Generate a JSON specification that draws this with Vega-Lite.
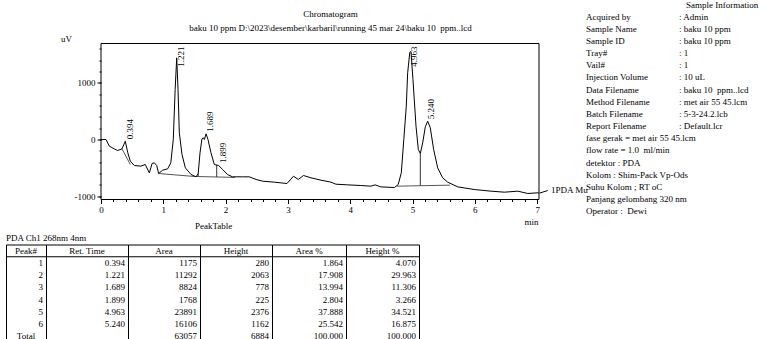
{
  "$schema": "https://vega.github.io/schema/vega-lite/v6.json",
  "padding": {"left": 5, "top": 0.5, "right": 0, "bottom": 0},
  "background": "white",
  "columns": 2,
  "bounds": "flush",
  "spacing": {"row": 45, "column": 47},
  "config": {
    "font": "Liberation Serif",
    "view": {"stroke": null},
    "axis": {"labelFont": "Liberation Serif", "titleFont": "Liberation Serif", "labelFontSize": 9, "titleFontSize": 9, "titleFontWeight": "normal", "labelColor": "#000", "titleColor": "#000", "tickColor": "#000", "domainColor": "#000", "grid": false},
    "text": {"font": "Liberation Serif", "fontSize": 9, "color": "#000"},
    "title": {"font": "Liberation Serif", "fontSize": 9, "fontWeight": "normal", "color": "#000", "subtitleFont": "Liberation Serif", "subtitleFontSize": 9, "subtitleColor": "#000"}
  },
  "datasets": {
    "curve": [
      {"t":0,"v":0},{"t":0.08,"v":0},{"t":0.134,"v":-118},{"t":0.214,"v":-165},{"t":0.267,"v":-194},{"t":0.337,"v":-165},{"t":0.39,"v":-30},{"t":0.43,"v":-235},{"t":0.47,"v":-382},{"t":0.535,"v":-459},{"t":0.64,"v":-470},{"t":0.71,"v":-441},{"t":0.776,"v":-588},{"t":0.82,"v":-423},{"t":0.856,"v":-411},{"t":0.894,"v":-459},{"t":0.925,"v":-600},{"t":0.99,"v":-541},{"t":1.07,"v":-517},{"t":1.12,"v":-411},{"t":1.16,"v":0},{"t":1.19,"v":882},{"t":1.215,"v":1440},{"t":1.236,"v":882},{"t":1.257,"v":118},{"t":1.3,"v":-265},{"t":1.354,"v":-500},{"t":1.445,"v":-617},{"t":1.525,"v":-658},{"t":1.56,"v":-600},{"t":1.589,"v":-235},{"t":1.62,"v":12},{"t":1.643,"v":29},{"t":1.659,"v":0},{"t":1.686,"v":100},{"t":1.717,"v":0},{"t":1.765,"v":-235},{"t":1.819,"v":-441},{"t":1.888,"v":-459},{"t":1.952,"v":-529},{"t":2.03,"v":-617},{"t":2.11,"v":-658},{"t":2.27,"v":-658},{"t":2.38,"v":-658},{"t":2.49,"v":-705},{"t":2.595,"v":-735},{"t":2.78,"v":-752},{"t":2.985,"v":-776},{"t":3.09,"v":-647},{"t":3.167,"v":-705},{"t":3.25,"v":-635},{"t":3.37,"v":-676},{"t":3.53,"v":-717},{"t":3.69,"v":-752},{"t":3.77,"v":-788},{"t":3.96,"v":-800},{"t":4.17,"v":-811},{"t":4.33,"v":-823},{"t":4.4,"v":-800},{"t":4.49,"v":-835},{"t":4.71,"v":-847},{"t":4.77,"v":-794},{"t":4.82,"v":-588},{"t":4.86,"v":0},{"t":4.9,"v":588},{"t":4.922,"v":1176},{"t":4.955,"v":1528},{"t":4.966,"v":1552},{"t":4.976,"v":1540},{"t":5.007,"v":1058},{"t":5.056,"v":235},{"t":5.093,"v":-176},{"t":5.125,"v":-247},{"t":5.163,"v":-59},{"t":5.205,"v":223},{"t":5.243,"v":323},{"t":5.285,"v":206},{"t":5.339,"v":-176},{"t":5.404,"v":-500},{"t":5.484,"v":-676},{"t":5.564,"v":-752},{"t":5.725,"v":-835},{"t":5.99,"v":-882},{"t":6.26,"v":-911},{"t":6.474,"v":-929},{"t":6.69,"v":-911},{"t":6.85,"v":-952},{"t":7.01,"v":-940},{"t":7.03,"v":-945}
    ],
    "peaks": [
      {"rt":0.394,"apex":-30},{"rt":1.221,"apex":1440},{"rt":1.689,"apex":100},{"rt":1.899,"apex":-450},{"rt":4.963,"apex":1552},{"rt":5.24,"apex":323}
    ],
    "baselines": [
      {"t1":0.337,"v1":-165,"t2":0.47,"v2":-441},
      {"t1":0.925,"v1":-600,"t2":1.5,"v2":-652},
      {"t1":1.5,"v1":-652,"t2":2.15,"v2":-668},
      {"t1":4.75,"v1":-823,"t2":5.6,"v2":-805}
    ],
    "drops": [
      {"t":1.56,"v1":-653,"v2":-600},
      {"t":1.857,"v1":-662,"v2":-450},
      {"t":5.125,"v1":-815,"v2":-247}
    ],
    "table": [
      {"peak":"1","rt":0.394,"area":1175,"height":280,"areaPct":1.864,"heightPct":4.07},
      {"peak":"2","rt":1.221,"area":11292,"height":2063,"areaPct":17.908,"heightPct":29.963},
      {"peak":"3","rt":1.689,"area":8824,"height":778,"areaPct":13.994,"heightPct":11.306},
      {"peak":"4","rt":1.899,"area":1768,"height":225,"areaPct":2.804,"heightPct":3.266},
      {"peak":"5","rt":4.963,"area":23891,"height":2376,"areaPct":37.888,"heightPct":34.521},
      {"peak":"6","rt":5.24,"area":16106,"height":1162,"areaPct":25.542,"heightPct":16.875},
      {"peak":"Total","area":63057,"height":6884,"areaPct":100,"heightPct":100}
    ],
    "info": [
      {"line":0,"head":"Sample Information"},
      {"line":1,"label":"Acquired by","value":": Admin"},
      {"line":2,"label":"Sample Name","value":": baku 10 ppm"},
      {"line":3,"label":"Sample ID","value":": baku 10 ppm"},
      {"line":4,"label":"Tray#","value":": 1"},
      {"line":5,"label":"Vail#","value":": 1"},
      {"line":6,"label":"Injection Volume","value":": 10 uL"},
      {"line":7,"label":"Data Filename","value":": baku 10\u00a0 ppm..lcd"},
      {"line":8,"label":"Method Filename","value":": met air 55 45.lcm"},
      {"line":9,"label":"Batch Filename","value":": 5-3-24.2.lcb"},
      {"line":10,"label":"Report Filename","value":": Default.lcr"},
      {"line":11,"label":"fase gerak = met air 55 45.lcm"},
      {"line":12,"label":"flow rate = 1.0\u00a0 ml/min"},
      {"line":13,"label":"detektor : PDA"},
      {"line":14,"label":"Kolom : Shim-Pack Vp-Ods"},
      {"line":15,"label":"Suhu Kolom ; RT oC"},
      {"line":16,"label":"Panjang gelombang 320 nm"},
      {"line":17,"label":"Operator :\u00a0 Dewi"}
    ]
  },
  "concat": [
    {
      "width": 533,
      "height": 156,
      "title": {"text": "Chromatogram", "subtitle": "baku 10 ppm D:\\2023\\desember\\karbaril\\running 45 mar 24\\baku 10\u00a0 ppm..lcd", "anchor": "middle", "frame": "group", "dx": 58, "offset": 2, "subtitlePadding": 5},
      "resolve": {"axis": {"x": "independent", "y": "independent"}},
      "layer": [
        {
          "data": {"values": [{}]},
          "mark": {"type": "rect", "filled": false, "color": "#000", "strokeWidth": 1},
          "encoding": {
            "x": {"datum": 0, "type": "quantitative", "axis": {"orient": "bottom", "values": [0,0.2,0.4,0.6,0.8,1,1.2,1.4,1.6,1.8,2,2.2,2.4,2.6,2.8,3,3.2,3.4,3.6,3.8,4,4.2,4.4,4.6,4.8,5,5.2,5.4,5.6,5.8,6,6.2,6.4,6.6,6.8,7], "labels": false, "tickSize": 2, "domain": false, "title": null}},
            "x2": {"datum": 7.03},
            "y": {"datum": -1058, "type": "quantitative", "axis": {"orient": "left", "values": [-1000,-800,-600,-400,-200,0,200,400,600,800,1000,1200,1400,1600], "labels": false, "tickSize": 2, "domain": false, "title": null, "offset": -95}},
            "y2": {"datum": 1693}
          }
        },
        {
          "data": {"name": "baselines"},
          "mark": {"type": "rule", "color": "#555", "strokeWidth": 1},
          "encoding": {
            "x": {"field": "t1", "type": "quantitative", "axis": null},
            "x2": {"field": "t2"},
            "y": {"field": "v1", "type": "quantitative", "axis": null},
            "y2": {"field": "v2"}
          }
        },
        {
          "data": {"name": "drops"},
          "mark": {"type": "rule", "color": "#333", "strokeWidth": 1},
          "encoding": {
            "x": {"field": "t", "type": "quantitative", "axis": null},
            "y": {"field": "v1", "type": "quantitative", "axis": null},
            "y2": {"field": "v2"}
          }
        },
        {
          "data": {"name": "curve"},
          "mark": {"type": "line", "color": "#000", "strokeWidth": 1},
          "encoding": {
            "x": {"field": "t", "type": "quantitative", "scale": {"domain": [-1.525, 7.03], "nice": false, "zero": false}, "axis": {"orient": "bottom", "values": [0,1,2,3,4,5,6,7], "tickSize": 4, "labelPadding": 2, "domain": false, "labelFlush": false, "title": "min", "titleX": 525, "titleY": 22, "titleAlign": "center", "titleBaseline": "middle"}},
            "y": {"field": "v", "type": "quantitative", "scale": {"domain": [-1058, 1693], "nice": false, "zero": false}, "axis": {"orient": "left", "values": [-1000, 0, 1000], "tickSize": 4, "labelPadding": 2, "domain": false, "offset": -95, "labelExpr": "datum.value < 0 ? '-' + format(-datum.value, 'd') : format(datum.value, 'd')", "title": "uV", "titleAngle": 0, "titleX": -35, "titleY": -5, "titleAlign": "center", "titleBaseline": "middle"}}
          }
        },
        {
          "data": {"name": "peaks"},
          "transform": [{"filter": "datum.apex < 1000"}],
          "mark": {"type": "text", "angle": 270, "align": "left", "baseline": "top", "dx": 2},
          "encoding": {
            "x": {"field": "rt", "type": "quantitative", "axis": null},
            "y": {"field": "apex", "type": "quantitative", "axis": null},
            "text": {"field": "rt", "type": "quantitative", "format": ".3f"}
          }
        },
        {
          "data": {"name": "peaks"},
          "transform": [{"filter": "datum.apex >= 1000"}],
          "mark": {"type": "text", "angle": 270, "align": "right", "baseline": "top", "dx": -3},
          "encoding": {
            "x": {"field": "rt", "type": "quantitative", "axis": null},
            "y": {"datum": 1693, "type": "quantitative", "axis": null},
            "text": {"field": "rt", "type": "quantitative", "format": ".3f"}
          }
        },
        {
          "data": {"values": [{"ch": "1PDA Mu"}]},
          "mark": {"type": "rule", "color": "#000", "strokeWidth": 1},
          "encoding": {
            "x": {"datum": 7.04, "type": "quantitative", "axis": null},
            "x2": {"datum": 7.17},
            "y": {"datum": -945, "type": "quantitative", "axis": null},
            "y2": {"datum": -900}
          }
        },
        {
          "data": {"values": [{"ch": "1PDA Mu"}]},
          "mark": {"type": "text", "align": "left", "baseline": "middle", "dx": 12, "dy": -3},
          "encoding": {
            "x": {"datum": 7.03, "type": "quantitative", "axis": null},
            "y": {"datum": -945, "type": "quantitative", "axis": null},
            "text": {"field": "ch"}
          }
        }
      ]
    },
    {
      "width": 93,
      "height": 156,
      "data": {"name": "info"},
      "encoding": {
        "y": {"field": "line", "type": "quantitative", "scale": {"domain": [3.207, 16.037], "reverse": true, "nice": false, "zero": false}, "axis": null}
      },
      "layer": [
        {
          "transform": [{"filter": "isValid(datum.label)"}],
          "mark": {"type": "text", "align": "left", "baseline": "middle"},
          "encoding": {
            "x": {"datum": "label", "type": "nominal", "scale": {"type": "point", "domain": ["label", "value"], "padding": 0}, "axis": null},
            "text": {"field": "label"}
          }
        },
        {
          "transform": [{"filter": "isValid(datum.value)"}],
          "mark": {"type": "text", "align": "left", "baseline": "middle"},
          "encoding": {
            "x": {"datum": "value", "type": "nominal", "axis": null},
            "text": {"field": "value"}
          }
        },
        {
          "transform": [{"filter": "isValid(datum.head)"}],
          "mark": {"type": "text", "align": "left", "baseline": "middle", "dx": 7},
          "encoding": {
            "x": {"datum": "value", "type": "nominal", "axis": null},
            "text": {"field": "head"}
          }
        }
      ]
    },
    {
      "hconcat": [
        {
          "width": 40, "height": 98,
          "title": {"text": "PDA Ch1 268nm 4nm", "anchor": "start", "frame": "group", "offset": 2},
          "view": {"stroke": "#000", "strokeWidth": 1},
          "data": {"name": "table"},
          "encoding": {"y": {"field": "peak", "type": "nominal", "scale": {"domain": ["Peak#","1","2","3","4","5","6","Total"], "paddingInner": 0, "paddingOuter": 0}, "axis": null}},
          "layer": [
            {"transform": [{"filter": "datum.peak != 'Total'"}], "mark": {"type": "text", "align": "right", "baseline": "middle", "dx": -3}, "encoding": {"x": {"datum": 1, "type": "quantitative", "scale": {"domain": [0, 1]}, "axis": null}, "text": {"field": "peak"}}},
            {"transform": [{"filter": "datum.peak == 'Total'"}], "mark": {"type": "text", "align": "center", "baseline": "middle"}, "encoding": {"x": {"datum": 0.5, "type": "quantitative"}, "text": {"field": "peak"}}},
            {"transform": [{"filter": "datum.peak == 'Total'"}], "mark": {"type": "text", "align": "center", "baseline": "middle"}, "encoding": {"x": {"datum": 0.5, "type": "quantitative"}, "y": {"datum": "Peak#", "type": "nominal"}, "text": {"value": "Peak#"}}},
            {"transform": [{"filter": "datum.peak == 'Total'"}], "mark": {"type": "rule", "color": "#000"}, "encoding": {"y": {"datum": "1", "type": "nominal", "bandPosition": 0}}}
          ]
        },
        {
          "width": 82, "height": 98,
          "view": {"stroke": "#000", "strokeWidth": 1},
          "data": {"name": "table"},
          "encoding": {"y": {"field": "peak", "type": "nominal", "scale": {"domain": ["Peak#","1","2","3","4","5","6","Total"], "paddingInner": 0, "paddingOuter": 0}, "axis": null}},
          "layer": [
            {"transform": [{"filter": "isValid(datum.rt)"}], "mark": {"type": "text", "align": "right", "baseline": "middle", "dx": -3}, "encoding": {"x": {"datum": 1, "type": "quantitative", "scale": {"domain": [0, 1]}, "axis": null}, "text": {"field": "rt", "type": "quantitative", "format": ".3f"}}},
            {"transform": [{"filter": "datum.peak == 'Total'"}], "mark": {"type": "text", "align": "center", "baseline": "middle"}, "encoding": {"x": {"datum": 0.5, "type": "quantitative"}, "y": {"datum": "Peak#", "type": "nominal"}, "text": {"value": "Ret. Time"}}},
            {"transform": [{"filter": "datum.peak == 'Total'"}], "mark": {"type": "rule", "color": "#000"}, "encoding": {"y": {"datum": "1", "type": "nominal", "bandPosition": 0}}}
          ]
        },
        {
          "width": 72, "height": 98,
          "view": {"stroke": "#000", "strokeWidth": 1},
          "data": {"name": "table"},
          "encoding": {"y": {"field": "peak", "type": "nominal", "scale": {"domain": ["Peak#","1","2","3","4","5","6","Total"], "paddingInner": 0, "paddingOuter": 0}, "axis": null}},
          "layer": [
            {"mark": {"type": "text", "align": "right", "baseline": "middle", "dx": -3}, "encoding": {"x": {"datum": 1, "type": "quantitative", "scale": {"domain": [0, 1]}, "axis": null}, "text": {"field": "area", "type": "quantitative", "format": "d"}}},
            {"transform": [{"filter": "datum.peak == 'Total'"}], "mark": {"type": "text", "align": "center", "baseline": "middle"}, "encoding": {"x": {"datum": 0.5, "type": "quantitative"}, "y": {"datum": "Peak#", "type": "nominal"}, "text": {"value": "Area"}}},
            {"transform": [{"filter": "datum.peak == 'Total'"}], "mark": {"type": "rule", "color": "#000"}, "encoding": {"y": {"datum": "1", "type": "nominal", "bandPosition": 0}}}
          ]
        },
        {
          "width": 72, "height": 98,
          "title": {"text": "PeakTable", "anchor": "start", "frame": "group", "dx": -5, "offset": 14},
          "view": {"stroke": "#000", "strokeWidth": 1},
          "data": {"name": "table"},
          "encoding": {"y": {"field": "peak", "type": "nominal", "scale": {"domain": ["Peak#","1","2","3","4","5","6","Total"], "paddingInner": 0, "paddingOuter": 0}, "axis": null}},
          "layer": [
            {"mark": {"type": "text", "align": "right", "baseline": "middle", "dx": -3}, "encoding": {"x": {"datum": 1, "type": "quantitative", "scale": {"domain": [0, 1]}, "axis": null}, "text": {"field": "height", "type": "quantitative", "format": "d"}}},
            {"transform": [{"filter": "datum.peak == 'Total'"}], "mark": {"type": "text", "align": "center", "baseline": "middle"}, "encoding": {"x": {"datum": 0.5, "type": "quantitative"}, "y": {"datum": "Peak#", "type": "nominal"}, "text": {"value": "Height"}}},
            {"transform": [{"filter": "datum.peak == 'Total'"}], "mark": {"type": "rule", "color": "#000"}, "encoding": {"y": {"datum": "1", "type": "nominal", "bandPosition": 0}}}
          ]
        },
        {
          "width": 74, "height": 98,
          "view": {"stroke": "#000", "strokeWidth": 1},
          "data": {"name": "table"},
          "encoding": {"y": {"field": "peak", "type": "nominal", "scale": {"domain": ["Peak#","1","2","3","4","5","6","Total"], "paddingInner": 0, "paddingOuter": 0}, "axis": null}},
          "layer": [
            {"mark": {"type": "text", "align": "right", "baseline": "middle", "dx": -3}, "encoding": {"x": {"datum": 1, "type": "quantitative", "scale": {"domain": [0, 1]}, "axis": null}, "text": {"field": "areaPct", "type": "quantitative", "format": ".3f"}}},
            {"transform": [{"filter": "datum.peak == 'Total'"}], "mark": {"type": "text", "align": "center", "baseline": "middle"}, "encoding": {"x": {"datum": 0.5, "type": "quantitative"}, "y": {"datum": "Peak#", "type": "nominal"}, "text": {"value": "Area %"}}},
            {"transform": [{"filter": "datum.peak == 'Total'"}], "mark": {"type": "rule", "color": "#000"}, "encoding": {"y": {"datum": "1", "type": "nominal", "bandPosition": 0}}}
          ]
        },
        {
          "width": 73, "height": 98,
          "view": {"stroke": "#000", "strokeWidth": 1},
          "data": {"name": "table"},
          "encoding": {"y": {"field": "peak", "type": "nominal", "scale": {"domain": ["Peak#","1","2","3","4","5","6","Total"], "paddingInner": 0, "paddingOuter": 0}, "axis": null}},
          "layer": [
            {"mark": {"type": "text", "align": "right", "baseline": "middle", "dx": -3}, "encoding": {"x": {"datum": 1, "type": "quantitative", "scale": {"domain": [0, 1]}, "axis": null}, "text": {"field": "heightPct", "type": "quantitative", "format": ".3f"}}},
            {"transform": [{"filter": "datum.peak == 'Total'"}], "mark": {"type": "text", "align": "center", "baseline": "middle"}, "encoding": {"x": {"datum": 0.5, "type": "quantitative"}, "y": {"datum": "Peak#", "type": "nominal"}, "text": {"value": "Height %"}}},
            {"transform": [{"filter": "datum.peak == 'Total'"}], "mark": {"type": "rule", "color": "#000"}, "encoding": {"y": {"datum": "1", "type": "nominal", "bandPosition": 0}}}
          ]
        }
      ],
      "spacing": 0,
      "bounds": "flush"
    }
  ]
}
